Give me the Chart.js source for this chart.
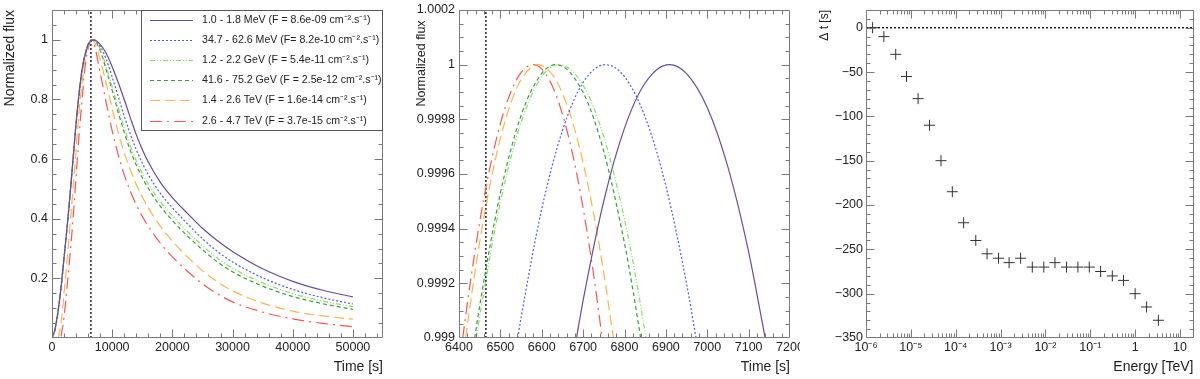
<!DOCTYPE html>
<html><head><meta charset="utf-8">
<script src="https://cdn.jsdelivr.net/npm/chart.js@4.4.1/dist/chart.umd.min.js"></script>
<style>
html,body{margin:0;padding:0;background:#fff;width:1200px;height:379px;overflow:hidden}
.p{position:absolute;top:0;width:400px;height:379px}
canvas{display:block}
</style></head><body>
<div class="p" style="left:0"><canvas id="c1" width="400" height="379"></canvas></div>
<div class="p" style="left:400px"><canvas id="c2" width="400" height="379"></canvas></div>
<div class="p" style="left:800px"><canvas id="c3" width="400" height="379"></canvas></div>
<script>
// ---------- DATA ----------
// Left panel: normalized light curves
const lightTimes = [0, 500, 1000, 1500, 2000, 2500, 3000, 3500, 4000, 4500, 5000, 5500, 6000, 6500, 7000, 8000, 9000, 10000, 11000, 12000, 13000, 14000, 15000, 16000, 18000, 20000, 22500, 25000, 27500, 30000, 35000, 40000, 45000, 50000];
const fluxMeV1 = [0.0, 0.03, 0.09, 0.17, 0.27, 0.37, 0.48, 0.6, 0.72, 0.82, 0.9, 0.95, 0.983, 0.997, 1.0, 0.985, 0.955, 0.91, 0.857, 0.8, 0.74, 0.682, 0.632, 0.59, 0.522, 0.471, 0.418, 0.368, 0.326, 0.29, 0.232, 0.19, 0.16, 0.138];
const fluxMeV35 = [0.0, 0.03, 0.09, 0.17, 0.27, 0.37, 0.48, 0.6, 0.72, 0.82, 0.9, 0.95, 0.984, 0.998, 0.999, 0.978, 0.935, 0.875, 0.81, 0.745, 0.685, 0.632, 0.587, 0.548, 0.485, 0.437, 0.383, 0.333, 0.29, 0.255, 0.202, 0.163, 0.135, 0.114];
const fluxGeV1 = [0.0, 0.025, 0.085, 0.165, 0.265, 0.37, 0.48, 0.6, 0.72, 0.82, 0.9, 0.952, 0.985, 0.999, 0.998, 0.97, 0.91, 0.842, 0.772, 0.705, 0.645, 0.595, 0.553, 0.517, 0.457, 0.41, 0.357, 0.31, 0.268, 0.234, 0.185, 0.149, 0.124, 0.105];
const fluxGeV42 = [0.0, 0.025, 0.085, 0.165, 0.265, 0.37, 0.48, 0.6, 0.72, 0.82, 0.9, 0.952, 0.985, 0.999, 0.998, 0.965, 0.9, 0.83, 0.757, 0.69, 0.63, 0.58, 0.538, 0.502, 0.442, 0.394, 0.342, 0.296, 0.255, 0.222, 0.174, 0.139, 0.115, 0.096];
const fluxTeV1 = [null, null, 0.0, 0.05, 0.15, 0.26, 0.38, 0.5, 0.63, 0.76, 0.86, 0.935, 0.98, 0.9995, 0.995, 0.935, 0.855, 0.77, 0.69, 0.622, 0.565, 0.515, 0.473, 0.437, 0.375, 0.325, 0.272, 0.226, 0.188, 0.158, 0.117, 0.09, 0.074, 0.063];
const fluxTeV3 = [null, null, null, 0.005, 0.07, 0.17, 0.28, 0.4, 0.54, 0.68, 0.8, 0.91, 0.97, 0.9998, 0.985, 0.89, 0.79, 0.695, 0.615, 0.548, 0.493, 0.447, 0.408, 0.375, 0.318, 0.272, 0.224, 0.182, 0.148, 0.121, 0.087, 0.064, 0.049, 0.038];
const seriesLabels = [
  '1.0 - 1.8 MeV (F = 8.6e-09 cm\u207B\u00B2.s\u207B\u00B9)',
  '34.7 - 62.6 MeV (F= 8.2e-10 cm\u207B\u00B2.s\u207B\u00B9)',
  '1.2 - 2.2 GeV (F = 5.4e-11 cm\u207B\u00B2.s\u207B\u00B9)',
  '41.6 - 75.2 GeV (F = 2.5e-12 cm\u207B\u00B2.s\u207B\u00B9)',
  '1.4 - 2.6 TeV (F = 1.6e-14 cm\u207B\u00B2.s\u207B\u00B9)',
  '2.6 - 4.7 TeV (F = 3.7e-15 cm\u207B\u00B2.s\u207B\u00B9)'
];
const markerTime = 6465;
const timeTickValues = [0, 10000, 20000, 30000, 40000, 50000];
const timeTickLabels = ['0', '10000', '20000', '30000', '40000', '50000'];
const fluxTickValues = [0.2, 0.4, 0.6, 0.8, 1];
const fluxTickLabels = ['0.2', '0.4', '0.6', '0.8', '1'];

// Middle panel: zoom around the peak
const peakTMeV1 = [6684, 6700, 6750, 6800, 6850, 6908, 6950, 7000, 7050, 7100, 7140];
const peakFMeV1 = [0.999, 0.999138, 0.999502, 0.999768, 0.999933, 1.0, 0.999967, 0.999843, 0.999625, 0.999315, 0.999];
const peakTMeV35 = [6542, 6550, 6600, 6650, 6700, 6754, 6800, 6850, 6900, 6950, 6973];
const peakFMeV35 = [0.999, 0.999074, 0.999472, 0.999759, 0.999935, 1.0, 0.999956, 0.999808, 0.999556, 0.999199, 0.999];
const peakTGeV1 = [6442, 6450, 6500, 6550, 6600, 6642, 6700, 6750, 6800, 6825, 6852];
const peakFGeV1 = [0.999, 0.999078, 0.999496, 0.999788, 0.999956, 1.0, 0.999924, 0.999736, 0.999434, 0.999241, 0.999];
const peakTGeV42 = [6438, 6450, 6500, 6550, 6600, 6635, 6700, 6750, 6800, 6820, 6839];
const peakFGeV42 = [0.999, 0.999118, 0.99953, 0.999814, 0.999968, 1.0, 0.999898, 0.999682, 0.999346, 0.999178, 0.999];
const peakTTeV1 = [6416, 6425, 6450, 6475, 6500, 6525, 6550, 6591, 6625, 6650, 6675, 6700, 6725, 6750, 6773];
const peakFTeV1 = [0.999, 0.9991, 0.999351, 0.999561, 0.99973, 0.999858, 0.999945, 1.0, 0.999965, 0.999895, 0.999787, 0.999641, 0.999458, 0.999237, 0.999];
const peakTTeV3 = [6409, 6425, 6450, 6475, 6500, 6525, 6550, 6579, 6600, 6625, 6650, 6675, 6700, 6725, 6746];
const peakFTeV3 = [0.999, 0.999179, 0.999424, 0.999626, 0.999784, 0.999899, 0.999971, 1.0, 0.999984, 0.999924, 0.999819, 0.99967, 0.999475, 0.999236, 0.999];
const zoomTimeTickValues = [6400, 6500, 6600, 6700, 6800, 6900, 7000, 7100, 7200];
const zoomTimeTickLabels = ['6400', '6500', '6600', '6700', '6800', '6900', '7000', '7100', '7200'];
const zoomFluxTickValues = [0.999, 0.9992, 0.9994, 0.9996, 0.9998, 1, 1.0002];
const zoomFluxTickLabels = ['0.999', '0.9992', '0.9994', '0.9996', '0.9998', '1', '1.0002'];

// Right panel: time delay vs energy
const energyCenters = [1.4e-6, 2.5e-6, 4.6e-6, 8.0e-6, 1.45e-5, 2.6e-5, 4.7e-5, 8.4e-5, 1.5e-4, 2.8e-4, 5.0e-4, 9.0e-4, 1.55e-3, 2.8e-3, 5.1e-3, 9.2e-3, 1.63e-2, 2.96e-2, 5.3e-2, 9.5e-2, 0.17, 0.31, 0.55, 1.0, 1.8, 3.3];
const delays = [0, -10, -30, -55, -80, -110, -150, -185, -220, -240, -255, -260, -265, -260, -270, -270, -265, -270, -270, -270, -275, -280, -285, -300, -315, -330];
const zeroDelay = 0;
const energyTickValues = [1e-6, 1e-5, 1e-4, 1e-3, 1e-2, 1e-1, 1, 10];
const energyTickLabels = ['10\u207B\u2076', '10\u207B\u2075', '10\u207B\u2074', '10\u207B\u00B3', '10\u207B\u00B2', '10\u207B\u00B9', '1', '10'];
const delayTickValues = [-350, -300, -250, -200, -150, -100, -50, 0];
const delayTickLabels = ['\u2212350', '\u2212300', '\u2212250', '\u2212200', '\u2212150', '\u2212100', '\u221250', '0'];

// ---------- STYLE ----------
Chart.defaults.font.family = '"Liberation Sans", Arial, Helvetica, sans-serif';
Chart.defaults.color = '#222';
const FONT_TICK = {size: 12.5};
const styles = [
  {color: '#6a4c9c', dash: []},
  {color: '#4a5cff', dash: [2, 2]},
  {color: '#86e05a', dash: [5, 2, 1, 2, 1, 2]},
  {color: '#3f9a45', dash: [4, 3]},
  {color: '#ffb443', dash: [10, 5]},
  {color: '#ff5454', dash: [12, 5, 2, 5]}
];

const pair = (xs, ys) => xs.map((x, i) => ({x: x, y: ys[i]}));

// frame + inside ticks (ROOT style)
const frameTicks = {
  id: 'frameTicks',
  afterDraw(chart, args, o) {
    const {ctx, chartArea: a} = chart;
    const xs = chart.scales.x, ys = chart.scales.y;
    ctx.save();
    ctx.strokeStyle = '#7a7a7a';
    ctx.lineWidth = 1;
    ctx.beginPath();
    const L = Math.round(a.left) + 0.5, R = Math.round(a.right) - 0.5, T = Math.round(a.top) + 0.5, B = Math.round(a.bottom) - 0.5;
    ctx.rect(L, T, R - L, B - T);
    const seg = (x1, y1, x2, y2) => { ctx.moveTo(x1, y1); ctx.lineTo(x2, y2); };
    const xTick = (v, len) => {
      const p = Math.round(xs.getPixelForValue(v)) + 0.5;
      if (p < L - 0.1 || p > R + 0.1) return;
      seg(p, B, p, B - len); seg(p, T, p, T + len);
    };
    const yTick = (v, len) => {
      const p = Math.round(ys.getPixelForValue(v)) + 0.5;
      if (p < T - 0.1 || p > B + 0.1) return;
      seg(L, p, L + len, p); seg(R, p, R - len, p);
    };
    const lin = (min, max, major, minor, fn) => {
      const k0 = Math.ceil(min / minor - 1e-6), k1 = Math.floor(max / minor + 1e-6);
      for (let k = k0; k <= k1; k++) {
        const v = k * minor;
        const r = v / major;
        fn(v, Math.abs(r - Math.round(r)) < 1e-4 ? 8 : 4);
      }
    };
    if (o.xLog) {
      for (let d = -6; d <= 1; d++) for (let m = 1; m <= 9; m++) {
        const v = m * Math.pow(10, d);
        if (v >= xs.min * 0.999 && v <= xs.max * 1.001) xTick(v, m === 1 ? 8 : 4);
      }
    } else {
      lin(xs.min, xs.max, o.xMajor, o.xMinor, xTick);
    }
    lin(ys.min, ys.max, o.yMajor, o.yMinor, yTick);
    ctx.stroke();
    ctx.restore();
  }
};

// legend box for left panel (drawn after the frame so it covers the top ticks)
const fluxLegend = {
  id: 'fluxLegend',
  afterDraw(chart) {
    const {ctx, chartArea: a} = chart;
    const bx = Math.round(a.right) - 242, by = Math.round(a.top), bw = 242, bh = 120;
    ctx.save();
    ctx.fillStyle = '#fff';
    ctx.fillRect(bx, by + 1, bw - 1, bh);
    ctx.strokeStyle = '#555';
    ctx.lineWidth = 1;
    ctx.strokeRect(bx + 0.5, by + 0.5, bw - 1, bh);
    ctx.font = '10.6px "Liberation Sans", Arial, sans-serif';
    ctx.textBaseline = 'middle';
    ctx.fillStyle = '#222';
    seriesLabels.forEach((lab, i) => {
      const yy = Math.round(by + 10 + i * 20.1) + 0.5;
      ctx.beginPath();
      ctx.setLineDash(styles[i].dash);
      ctx.strokeStyle = styles[i].color;
      ctx.lineWidth = 1.2;
      ctx.moveTo(bx + 9, yy); ctx.lineTo(bx + 52, yy);
      ctx.stroke();
      ctx.setLineDash([]);
      ctx.fillText(lab, bx + 61, yy);
    });
    ctx.restore();
  }
};

function xAxis(min, max, tv, tl, title, extra) {
  return Object.assign({
    type: 'linear', min: min, max: max,
    afterBuildTicks: s => { s.ticks = tv.map(v => ({value: v})); },
    ticks: {callback: (v, i) => tl[i], padding: 2, maxRotation: 0, autoSkip: false, font: FONT_TICK, color: '#222'},
    grid: {display: false, drawTicks: false},
    border: {display: false},
    title: {display: true, text: title, align: 'end', font: {size: 14}, color: '#222', padding: {top: 0, bottom: 3.9}},
    afterFit: s => { s.height = 41; s.paddingLeft = 0; s.paddingRight = 0; }
  }, extra || {});
}
function yAxis(min, max, tv, tl, title, width, tsize, tpad, lpad) {
  return {
    type: 'linear', min: min, max: max,
    afterBuildTicks: s => { s.ticks = tv.map(v => ({value: v})); },
    ticks: {callback: (v, i) => tl[i], padding: lpad, autoSkip: false, font: FONT_TICK, color: '#222'},
    grid: {display: false, drawTicks: false},
    border: {display: false},
    title: {display: true, text: title, align: 'end', font: {size: tsize}, color: '#222', padding: {top: tpad, bottom: 0}},
    afterFit: s => { s.width = width; s.paddingTop = 0; s.paddingBottom = 0; }
  };
}
const common = {
  responsive: false, animation: false,
  elements: {point: {radius: 0}, line: {borderWidth: 1.2}},
  events: []
};

// ---------- LEFT ----------
const leftSeries = [fluxMeV1, fluxMeV35, fluxGeV1, fluxGeV42, fluxTeV1, fluxTeV3];
new Chart(document.getElementById('c1'), {
  type: 'line',
  data: {
    datasets: leftSeries.map((ys, i) => ({
      label: seriesLabels[i], data: pair(lightTimes, ys),
      borderColor: styles[i].color, borderDash: styles[i].dash, borderWidth: 1.2,
      cubicInterpolationMode: 'monotone', spanGaps: false, fill: false
    })).concat([{
      label: 'marker', data: [{x: markerTime, y: 0}, {x: markerTime, y: 1.1}],
      borderColor: '#000', borderDash: [2, 2], borderWidth: 1.3, fill: false
    }])
  },
  options: Object.assign({}, common, {
    layout: {padding: {top: 10, right: 17, left: 0, bottom: 0}},
    scales: {
      x: xAxis(0, 55000, timeTickValues, timeTickLabels, 'Time [s]'),
      y: yAxis(0, 1.1, fluxTickValues, fluxTickLabels, 'Normalized flux', 52, 14, 1.6, 4)
    },
    plugins: {legend: {display: false}, tooltip: {enabled: false},
      frameTicks: {xMajor: 10000, xMinor: 2000, yMajor: 0.2, yMinor: 0.05}}
  }),
  plugins: [frameTicks, fluxLegend]
});

// ---------- MIDDLE ----------
const midT = [peakTMeV1, peakTMeV35, peakTGeV1, peakTGeV42, peakTTeV1, peakTTeV3];
const midF = [peakFMeV1, peakFMeV35, peakFGeV1, peakFGeV42, peakFTeV1, peakFTeV3];
new Chart(document.getElementById('c2'), {
  type: 'line',
  data: {
    datasets: midT.map((ts, i) => ({
      label: seriesLabels[i], data: pair(ts, midF[i]),
      borderColor: styles[i].color, borderDash: styles[i].dash, borderWidth: 1.2,
      cubicInterpolationMode: 'monotone', fill: false
    })).concat([{
      label: 'marker', data: [{x: markerTime, y: 0.999}, {x: markerTime, y: 1.0002}],
      borderColor: '#000', borderDash: [2, 2], borderWidth: 1.3, fill: false
    }])
  },
  options: Object.assign({}, common, {
    layout: {padding: {top: 10, right: 10, left: 0, bottom: 0}},
    scales: {
      x: xAxis(6400, 7200, zoomTimeTickValues, zoomTimeTickLabels, 'Time [s]'),
      y: yAxis(0.999, 1.0002, zoomFluxTickValues, zoomFluxTickLabels, 'Normalized flux   ', 59, 12.5, 14.2, 4)
    },
    plugins: {legend: {display: false}, tooltip: {enabled: false},
      frameTicks: {xMajor: 100, xMinor: 20, yMajor: 0.0002, yMinor: 0.00005}}
  }),
  plugins: [frameTicks]
});

// ---------- RIGHT ----------
new Chart(document.getElementById('c3'), {
  type: 'line',
  data: {
    datasets: [{
      label: 'delay', data: pair(energyCenters, delays), showLine: false,
      pointStyle: 'cross', pointRadius: 5.5, pointBorderColor: '#333', pointBorderWidth: 1, borderColor: '#333'
    }, {
      label: 'zero', data: [{x: 1e-6, y: zeroDelay}, {x: 20, y: zeroDelay}],
      borderColor: '#000', borderDash: [2, 2], borderWidth: 1.3, pointRadius: 0, fill: false
    }]
  },
  options: Object.assign({}, common, {
    layout: {padding: {top: 10, right: 3, left: 0, bottom: 0}},
    scales: {
      x: xAxis(1e-6, 20, energyTickValues, energyTickLabels, 'Energy [TeV]', {type: 'logarithmic'}),
      y: yAxis(-350, 20, delayTickValues, delayTickLabels, '\u0394 t [s]', 66, 12, 17.8, 3)
    },
    plugins: {legend: {display: false}, tooltip: {enabled: false},
      frameTicks: {xLog: true, yMajor: 50, yMinor: 10}}
  }),
  plugins: [frameTicks]
});
</script>
</body></html>
